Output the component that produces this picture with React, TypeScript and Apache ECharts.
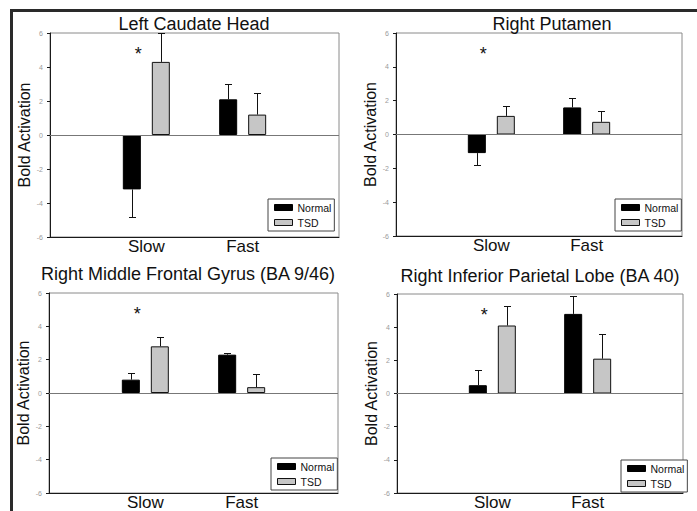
import React, { useEffect, useRef } from 'react';
import * as echarts from 'echarts';

// ---------- data ----------
const axisCategories = ['', 'Slow', 'Fast', ''];
const conditions = ['Slow', 'Fast'];
const panelTitles = [
  'Left Caudate Head',
  'Right Putamen',
  'Right Middle Frontal Gyrus (BA 9/46)',
  'Right Inferior Parietal Lobe (BA 40)',
];
const normalMeans = [
  [-3.2, 2.1],
  [-1.1, 1.6],
  [0.8, 2.3],
  [0.5, 4.8],
];
const normalErrors = [
  [1.6, 0.9],
  [0.7, 0.55],
  [0.4, 0.1],
  [0.9, 1.05],
];
const tsdMeans = [
  [4.3, 1.2],
  [1.1, 0.75],
  [2.8, 0.35],
  [4.1, 2.1],
];
const tsdErrors = [
  [1.7, 1.25],
  [0.6, 0.65],
  [0.55, 0.77],
  [1.2, 1.5],
];
const sigConditions = ['Slow', 'Slow', 'Slow', 'Slow'];
const sigValues = [5, 5, 5, 5];
const yTicks = [-6, -4, -2, 0, 2, 4, 6];
const seriesNames = ['Normal', 'TSD'];
const yAxisName = 'Bold Activation';

// ---------- layout / style ----------
const FONT = "'Liberation Sans', Arial, Helvetica, sans-serif";
const NORMAL_COLOR = '#000000';
const TSD_COLOR = '#c6c6c6';
const BAR_W = 18;
const BAR_GAP = 11;
const layout = [
  { grid: { left: 50, top: 33, width: 289, height: 204 }, title: { x: 194, y: 15 }, legend: { x: 268, y: 199 }, nameGap: 14 },
  { grid: { left: 396, top: 33, width: 286, height: 203 }, title: { x: 552, y: 15 }, legend: { x: 615, y: 199 }, nameGap: 14 },
  { grid: { left: 49, top: 293, width: 289, height: 200 }, title: { x: 188, y: 265 }, legend: { x: 271, y: 458 }, nameGap: 11 },
  { grid: { left: 397, top: 294, width: 286, height: 201 }, title: { x: 540, y: 267 }, legend: { x: 621, y: 460 }, nameGap: 15 },
];

function errorSeries(i: number, means: number[][], errs: number[][], offset: number, name: string) {
  return {
    type: 'custom',
    name,
    xAxisIndex: i,
    yAxisIndex: i,
    z: 4,
    silent: true,
    encode: { x: 0, y: 1 },
    data: conditions.map((c, j) => [c, means[i][j], errs[i][j]]),
    renderItem: (params: any, api: any) => {
      const cat = api.value(0);
      const mean = api.value(1);
      const err = api.value(2);
      const end = mean + (mean < 0 ? -err : err);
      const p0 = api.coord([cat, mean]);
      const p1 = api.coord([cat, end]);
      const x = Math.round(p0[0] + offset) + 0.5;
      const y1 = Math.round(p1[1]) + 0.5;
      return {
        type: 'group',
        children: [
          { type: 'line', shape: { x1: x, y1: p0[1], x2: x, y2: y1 }, style: { stroke: '#111', lineWidth: 1 } },
          { type: 'line', shape: { x1: x - 3.5, y1: y1, x2: x + 3.5, y2: y1 }, style: { stroke: '#111', lineWidth: 1 } },
        ],
      };
    },
  };
}

function buildOption() {
  const series: any[] = [];
  layout.forEach((_, i) => {
    series.push({
      type: 'bar',
      name: seriesNames[0],
      xAxisIndex: i,
      yAxisIndex: i,
      barWidth: BAR_W,
      barGap: `${Math.round((BAR_GAP / BAR_W) * 100)}%`,
      z: 2,
      itemStyle: { color: NORMAL_COLOR, borderColor: '#000', borderWidth: 1 },
      data: conditions.map((c, j) => [c, normalMeans[i][j]]),
      markLine: {
        silent: true,
        symbol: ['none', 'none'],
        label: { show: false },
        lineStyle: { color: '#777', type: 'solid', width: 1 },
        data: [{ yAxis: 0 }],
      },
    });
    series.push({
      type: 'bar',
      name: seriesNames[1],
      xAxisIndex: i,
      yAxisIndex: i,
      barWidth: BAR_W,
      barGap: `${Math.round((BAR_GAP / BAR_W) * 100)}%`,
      z: 2,
      itemStyle: { color: TSD_COLOR, borderColor: '#111', borderWidth: 1 },
      data: conditions.map((c, j) => [c, tsdMeans[i][j]]),
    });
    const off = (BAR_W + BAR_GAP) / 2;
    series.push(errorSeries(i, normalMeans, normalErrors, -off, 'Normal SE'));
    series.push(errorSeries(i, tsdMeans, tsdErrors, off, 'TSD SE'));
    series.push({
      type: 'custom',
      name: 'sig',
      xAxisIndex: i,
      yAxisIndex: i,
      z: 5,
      silent: true,
      encode: { x: 0, y: 1 },
      data: [[sigConditions[i], sigValues[i]]],
      renderItem: (params: any, api: any) => {
        const p = api.coord([api.value(0), api.value(1)]);
        return {
          type: 'text',
          x: p[0] - 8,
          y: p[1] + 4,
          style: { text: '*', fontSize: 18, fontFamily: FONT, fill: '#111', align: 'center', verticalAlign: 'middle' },
        };
      },
    });
  });

  return {
    animation: false,
    backgroundColor: '#ffffff',
    title: layout.map((l, i) => ({
      text: panelTitles[i],
      left: l.title.x,
      top: l.title.y,
      textAlign: 'center',
      padding: 0,
      textStyle: { fontSize: 18, fontWeight: 'normal', color: '#111', fontFamily: FONT },
    })),
    legend: layout.map((l) => ({
      left: l.legend.x,
      top: l.legend.y,
      orient: 'vertical',
      icon: 'rect',
      selectedMode: false,
      itemWidth: 18,
      itemHeight: 6,
      itemGap: 4,
      padding: [3, 3, 3, 6],
      borderColor: '#444',
      borderWidth: 1,
      borderRadius: 0,
      backgroundColor: '#fff',
      textStyle: { fontSize: 10.5, color: '#111', fontFamily: FONT },
      data: [
        { name: seriesNames[0], itemStyle: { color: NORMAL_COLOR, borderColor: '#000', borderWidth: 1 } },
        { name: seriesNames[1], itemStyle: { color: TSD_COLOR, borderColor: '#111', borderWidth: 1 } },
      ],
    })),
    grid: layout.map((l) => ({
      ...l.grid,
      show: true,
      borderColor: '#8a8a8a',
      borderWidth: 1,
      backgroundColor: 'transparent',
      containLabel: false,
    })),
    xAxis: layout.map((_, i) => ({
      type: 'category',
      gridIndex: i,
      data: axisCategories,
      boundaryGap: false,
      axisLine: { onZero: false, lineStyle: { color: '#1a1a1a', width: 1 } },
      axisTick: { show: false },
      axisLabel: { interval: 0, margin: 1, fontSize: 17, color: '#111', fontFamily: FONT },
      splitLine: { show: false },
    })),
    yAxis: layout.map((l, i) => ({
      type: 'value',
      gridIndex: i,
      min: yTicks[0],
      max: yTicks[yTicks.length - 1],
      interval: yTicks[1] - yTicks[0],
      name: yAxisName,
      nameLocation: 'middle',
      nameGap: l.nameGap,
      nameTextStyle: { fontSize: 16, color: '#111', fontFamily: FONT },
      axisLine: { show: true, lineStyle: { color: '#1a1a1a', width: 1 } },
      axisTick: { show: true, length: 3, lineStyle: { color: '#1a1a1a' } },
      axisLabel: { fontSize: 7, color: '#9a9a9a', margin: 7, fontFamily: FONT },
      splitLine: { show: false },
    })),
    graphic: [
      {
        type: 'rect',
        silent: true,
        z: -1,
        shape: { x: 11.5, y: 10.5, width: 720, height: 560 },
        style: { fill: 'transparent', stroke: '#2a2a2a', lineWidth: 3 },
      },
    ],
    series,
  };
}

export default function App() {
  const ref = useRef<HTMLDivElement>(null);
  useEffect(() => {
    if (!ref.current) return;
    const chart = echarts.init(ref.current, null, { renderer: 'svg' });
    chart.setOption(buildOption() as any);
    return () => chart.dispose();
  }, []);
  return (
    <div
      ref={ref}
      style={{ position: 'absolute', left: 0, top: 0, width: 697, height: 511, background: '#fff' }}
    />
  );
}
